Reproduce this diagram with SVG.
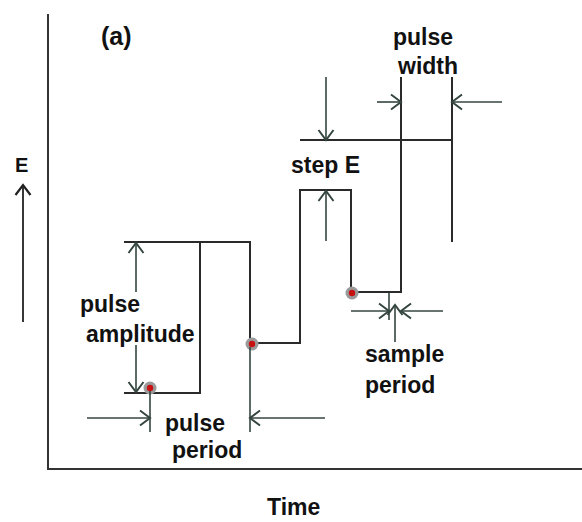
<svg xmlns="http://www.w3.org/2000/svg" width="582" height="522" viewBox="0 0 582 522">
<style>
.t{font-family:"Liberation Sans",Arial,sans-serif;font-weight:bold;font-size:23px;fill:#111}
.w{fill:none;stroke:#2a2a2a;stroke-width:2}
.a{fill:none;stroke:#34463f;stroke-width:1.6}
.halo{fill:#9a9a9a}
.dot{fill:#c81010}
</style>
<defs>
<marker id="ah" markerUnits="userSpaceOnUse" markerWidth="20" markerHeight="20" viewBox="-10 -8 12 16" refX="0" refY="0" orient="auto">
<path d="M-8,-6 L0,0 L-8,6" fill="none" stroke="#34463f" stroke-width="1.6"/>
</marker>
<marker id="ahk" markerUnits="userSpaceOnUse" markerWidth="20" markerHeight="20" viewBox="-10 -8 12 16" refX="0" refY="0" orient="auto">
<path d="M-8,-6 L0,0 L-8,6" fill="none" stroke="#222" stroke-width="1.8"/>
</marker>
</defs>
<rect width="582" height="522" fill="#fff"/>
<g id="axes">
<line x1="48" y1="14" x2="48" y2="470" stroke="#333" stroke-width="2"/>
<line x1="47" y1="469" x2="582" y2="469" stroke="#333" stroke-width="2"/>
<line x1="23" y1="322" x2="23" y2="185" fill="none" stroke="#222" stroke-width="1.8" marker-end="url(#ahk)"/>
<text x="15" y="172" class="t" font-size="20" style="font-size:20px">E</text>
<text x="267" y="515" class="t">Time</text>
<text x="101" y="45" class="t" style="font-size:25px">(a)</text>
</g>
<g id="waveform">
<path class="w" d="M124,242 H250 V343 H300 V190 H351 V292 H401 V77"/>
<path class="w" d="M124,393 H200 V242"/>
<path class="w" d="M300,140 H452 M452,77 V242"/>
</g>
<g id="samples">
<circle cx="150" cy="388" r="6.5" class="halo"/><circle cx="150" cy="388" r="3.2" class="dot"/>
<circle cx="252" cy="344" r="6.5" class="halo"/><circle cx="252" cy="344" r="3.2" class="dot"/>
<circle cx="352" cy="293" r="6.5" class="halo"/><circle cx="352" cy="293" r="3.2" class="dot"/>
</g>
<g id="connectors">
<line class="a" x1="150" y1="391" x2="150" y2="432"/>
<line class="a" x1="250" y1="347" x2="250" y2="432"/>
<line class="a" x1="87" y1="418" x2="150" y2="418" marker-end="url(#ah)"/>
<line class="a" x1="325" y1="418" x2="250" y2="418" marker-end="url(#ah)"/>
<line class="a" x1="136" y1="292" x2="136" y2="243" marker-end="url(#ah)"/>
<line class="a" x1="136" y1="345" x2="136" y2="392" marker-end="url(#ah)"/>
<line class="a" x1="326" y1="77" x2="326" y2="140" marker-end="url(#ah)"/>
<line class="a" x1="326" y1="241" x2="326" y2="191" marker-end="url(#ah)"/>
<line class="a" x1="377" y1="102" x2="401" y2="102" marker-end="url(#ah)"/>
<line class="a" x1="502" y1="102" x2="452" y2="102" marker-end="url(#ah)"/>
<line class="a" x1="351" y1="311" x2="389" y2="311" marker-end="url(#ah)"/>
<line class="a" x1="443" y1="311" x2="401" y2="311" marker-end="url(#ah)"/>
<line class="a" x1="389" y1="293" x2="389" y2="320"/>
<line class="a" x1="395" y1="342" x2="395" y2="305" marker-end="url(#ah)"/>
</g>
<g id="labels">
<text x="80" y="312" class="t">pulse</text>
<text x="86" y="342" class="t">amplitude</text>
<text x="165" y="431" class="t">pulse</text>
<text x="172" y="458" class="t">period</text>
<text x="291" y="173" class="t">step E</text>
<text x="393" y="45" class="t">pulse</text>
<text x="398" y="74" class="t">width</text>
<text x="365" y="362" class="t">sample</text>
<text x="365" y="393" class="t">period</text>
</g>
</svg>
